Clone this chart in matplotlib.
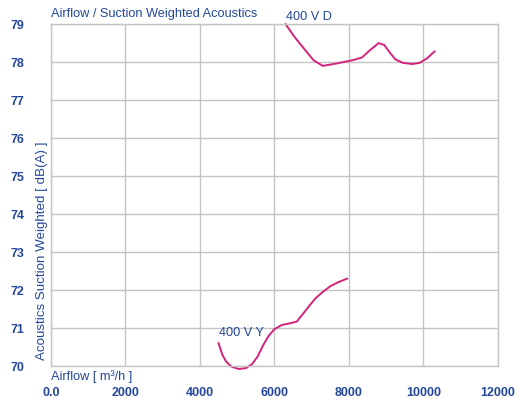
import numpy as np
import matplotlib
matplotlib.use( 'Agg' )
import matplotlib.pyplot as plt

plt.rcParams['font.family'] = ['Liberation Sans', 'DejaVu Sans']

# data
flow_d = [ 6300, 6550, 6800, 7050, 7300, 7700, 8100, 8350, 8550, 8800, 8950, 9100, 9250, 9450, 9700, 9900, 10100, 10300 ]
noise_d = [ 79.0, 78.65, 78.35, 78.05, 77.9, 77.97, 78.05, 78.12, 78.3, 78.5, 78.45, 78.25, 78.07, 77.98, 77.95, 77.98, 78.1, 78.28 ]

flow_y = [ 4500, 4600, 4700, 4850, 5050, 5250, 5400, 5550, 5700, 5850, 6000, 6200, 6400, 6600, 6750, 6950, 7100, 7300, 7500, 7700, 7950 ]
noise_y = [ 70.6, 70.3, 70.12, 69.98, 69.92, 69.95, 70.05, 70.25, 70.55, 70.8, 70.97, 71.08, 71.12, 71.17, 71.35, 71.6, 71.78, 71.95, 72.1, 72.2, 72.3 ]

xticks = [ 0, 2000, 4000, 6000, 8000, 10000, 12000 ]
xticklabels = [ '0.0', '2000', '4000', '6000', '8000', '10000', '12000' ]
yticks = [ 70, 71, 72, 73, 74, 75, 76, 77, 78, 79 ]

blue = '#23479a'
pink = '#d4237a'
gray = '#c4c4c4'

fig = plt.figure( figsize=( 5.16, 3.98 ), dpi=100 )
ax = fig.add_axes( [ 0.0988, 0.0804, 0.866, 0.859 ] )

ax.plot( flow_d, noise_d, color=pink, lw=1.4, clip_on=False )
ax.plot( flow_y, noise_y, color=pink, lw=1.4, clip_on=False )

ax.set_xlim( 0, 12000 )
ax.set_ylim( 70, 79 )
ax.set_xticks( xticks, xticklabels )
ax.set_yticks( yticks )
ax.grid( color=gray, lw=1 )
for sp in ax.spines.values():
    sp.set_color( gray )
    sp.set_linewidth( 1 )
ax.tick_params( axis='both', length=0, labelcolor=blue, labelsize=9 )
ax.tick_params( axis='x', pad=15 )
ax.tick_params( axis='y', pad=19 )
for lbl in ax.get_xticklabels() + ax.get_yticklabels():
    lbl.set_fontweight( 'bold' )

ax.text( 0.0, 1.012, 'Airflow / Suction Weighted Acoustics', transform=ax.transAxes,
         color=blue, fontsize=9.2, ha='left', va='bottom' )
ax.text( 0.0, -0.012, 'Airflow [ m³/h ]', transform=ax.transAxes,
         color=blue, fontsize=9.2, ha='left', va='top' )
ax.text( -0.006, 0.018, 'Acoustics Suction Weighted [ dB(A) ]', transform=ax.transAxes,
         color=blue, fontsize=9.6, rotation=90, ha='right', va='bottom' )

ax.text( flow_d[0], noise_d[0] + 0.18, '400 V D', color=blue, fontsize=9.2, ha='left', va='center' )
ax.text( flow_y[0], noise_y[0] + 0.1, '400 V Y', color=blue, fontsize=9.2, ha='left', va='bottom' )

fig.savefig( 'out.png', dpi=100 )
